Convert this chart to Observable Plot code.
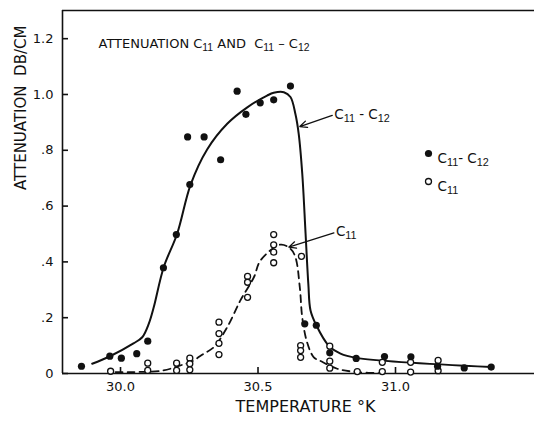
<!DOCTYPE html>
<html>
<head>
<meta charset="utf-8">
<script src="https://cdn.jsdelivr.net/npm/d3@7"></script>
<script src="https://cdn.jsdelivr.net/npm/@observablehq/plot@0.6"></script>
<style>
  html, body { margin: 0; padding: 0; background: #fff; }
  #chart svg { display: block; }
</style>
</head>
<body>
<div id="chart"></div>
<script>
// Measured attenuation, C11 - C12 mode (filled circles)
const diffTemp = [29.858, 29.961, 30.003, 30.059, 30.099, 30.156, 30.203, 30.252, 30.244, 30.304,
                  30.364, 30.424, 30.456, 30.508, 30.557, 30.618, 30.670, 30.712, 30.761, 30.857,
                  30.960, 31.056, 31.153, 31.250, 31.348];
const diffAtt  = [0.026, 0.062, 0.055, 0.071, 0.116, 0.379, 0.498, 0.677, 0.848, 0.848,
                  0.766, 1.012, 0.929, 0.970, 0.981, 1.030, 0.178, 0.173, 0.074, 0.054,
                  0.061, 0.060, 0.026, 0.020, 0.023];

// Measured attenuation, C11 mode (open circles)
const c11Temp = [29.964, 30.099, 30.099, 30.204, 30.204, 30.252, 30.252, 30.252,
                 30.358, 30.358, 30.358, 30.358, 30.462, 30.462, 30.462,
                 30.557, 30.557, 30.557, 30.557, 30.658, 30.655, 30.655, 30.655,
                 30.761, 30.761, 30.761, 30.861, 30.952, 30.952, 31.055, 31.055, 31.155, 31.155];
const c11Att  = [0.008, 0.037, 0.011, 0.037, 0.011, 0.055, 0.035, 0.013,
                 0.184, 0.143, 0.108, 0.068, 0.348, 0.327, 0.273,
                 0.498, 0.461, 0.435, 0.397, 0.420, 0.100, 0.082, 0.058,
                 0.098, 0.044, 0.019, 0.007, 0.040, 0.007, 0.040, 0.005, 0.047, 0.010];

// Hand-fitted curve through the C11 - C12 points (solid)
const diffCurveTemp = [29.897, 29.960, 30.047, 30.079, 30.103, 30.121, 30.157, 30.206, 30.255, 30.315,
                       30.388, 30.461, 30.533, 30.557, 30.594, 30.618, 30.636, 30.648, 30.661, 30.673,
                       30.683, 30.691, 30.712, 30.757, 30.800, 30.857, 31.348];
const diffCurveAtt  = [0.035, 0.061, 0.108, 0.130, 0.179, 0.238, 0.381, 0.501, 0.677, 0.803,
                       0.895, 0.954, 0.996, 1.006, 1.008, 0.991, 0.930, 0.859, 0.715, 0.501,
                       0.321, 0.226, 0.173, 0.100, 0.071, 0.056, 0.023];

// Hand-fitted curve through the C11 points (dashed)
const c11CurveTemp = [29.982, 30.043, 30.156, 30.218, 30.255, 30.303, 30.339, 30.388, 30.436, 30.485,
                      30.509, 30.582, 30.618, 30.636, 30.652, 30.661, 30.679, 30.703, 30.727, 30.788,
                      30.861, 30.957];
const c11CurveAtt  = [0.005, 0.005, 0.011, 0.029, 0.041, 0.071, 0.094, 0.166, 0.262, 0.345,
                      0.405, 0.462, 0.447, 0.417, 0.309, 0.200, 0.110, 0.058, 0.045, 0.017,
                      0.005, 0.001];

// Axis ticks
const xTicks = [30.0, 30.5, 31.0];
const xTickLabels = ["30.0", "30.5", "31.0"];
const yTicks = [0, 0.2, 0.4, 0.6, 0.8, 1.0, 1.2];
const yTickLabels = ["0", ".2", ".4", ".6", ".8", "1.0", "1.2"];

// Curve callouts: label anchor and arrow tip
const calloutLabels = ["C₁₁ - C₁₂", "C₁₁"];
const calloutFromTemp = [30.770, 30.776];
const calloutFromAtt  = [0.925, 0.504];
const calloutToTemp   = [30.652, 30.612];
const calloutToAtt    = [0.885, 0.453];

const legendLabels = ["C₁₁- C₁₂", "C₁₁"];
const titleText = "ATTENUATION C₁₁ AND  C₁₁ – C₁₂";
const xLabel = "TEMPERATURE °K";
const yLabel = "ATTENUATION  DB/CM";

const xDomain = [29.789, 31.5055];
const yDomain = [0, 1.301];

const W = 534, H = 421, mLeft = 62, mTop = 10, mRight = 0, mBottom = 48;
// inward tick length (6px) expressed in data units of each scale
const tickPx = 6;
const xTickLen = tickPx * (xDomain[1] - xDomain[0]) / (W - mLeft - mRight);
const yTickLen = tickPx * (yDomain[1] - yDomain[0]) / (H - mTop - mBottom);

const diffPts = diffTemp.map((t, i) => ({t, a: diffAtt[i]}));
const c11Pts = c11Temp.map((t, i) => ({t, a: c11Att[i]}));
const diffCurve = diffCurveTemp.map((t, i) => ({t, a: diffCurveAtt[i]}));
const c11Curve = c11CurveTemp.map((t, i) => ({t, a: c11CurveAtt[i]}));
const callouts = calloutLabels.map((label, i) => ({
  label, x1: calloutFromTemp[i], y1: calloutFromAtt[i], x2: calloutToTemp[i], y2: calloutToAtt[i]
}));

const font = "'DejaVu Sans', sans-serif";
const ink = "#111";

const chart = Plot.plot({
  width: W,
  height: H,
  marginLeft: mLeft,
  marginTop: mTop,
  marginRight: mRight,
  marginBottom: mBottom,
  style: {fontFamily: font, background: "#fff", color: ink},
  x: {domain: xDomain},
  y: {domain: yDomain},
  marks: [
    // frame: left, top and bottom edges
    Plot.ruleX([xDomain[0]], {stroke: ink, strokeWidth: 1.6}),
    Plot.ruleY([yDomain[1]], {stroke: ink, strokeWidth: 1.6}),
    Plot.ruleY([0], {stroke: ink, strokeWidth: 1.6}),
    // short tick marks pointing into the frame
    Plot.ruleX(xTicks, {x: d => d, y1: yDomain[0], y2: yDomain[0] + yTickLen, stroke: ink, strokeWidth: 1.6}),
    Plot.ruleY(yTicks, {y: d => d, x1: xDomain[0], x2: xDomain[0] + xTickLen, stroke: ink, strokeWidth: 1.6}),
    Plot.axisX({
      ticks: xTicks, tickFormat: (d, i) => xTickLabels[i],
      tickSize: 0, tickPadding: 8, fontSize: 13, label: null
    }),
    Plot.axisY({
      ticks: yTicks, tickFormat: (d, i) => yTickLabels[i],
      tickSize: 0, tickPadding: 9, fontSize: 13, label: null
    }),
    // fitted curves
    Plot.line(diffCurve, {x: "t", y: "a", curve: "catmull-rom", stroke: ink, strokeWidth: 2}),
    Plot.line(c11Curve, {x: "t", y: "a", curve: "catmull-rom", stroke: ink, strokeWidth: 1.8,
                         strokeDasharray: "7,5"}),
    // measured points
    Plot.dot(c11Pts, {x: "t", y: "a", r: 3, stroke: ink, strokeWidth: 1.3, fill: "#fff"}),
    Plot.dot(diffPts, {x: "t", y: "a", r: 3.6, fill: ink, stroke: "none"}),
    // callouts
    Plot.arrow(callouts, {x1: "x1", y1: "y1", x2: "x2", y2: "y2", stroke: ink, strokeWidth: 1.3,
                          headLength: 9, headAngle: 50}),
    Plot.text(callouts, {x: "x1", y: "y1", text: "label", textAnchor: "start", dx: 2, dy: -1, fontSize: 13.5, fill: ink}),
    // title
    Plot.text([titleText], {frameAnchor: "top-left", dx: 36, dy: 28, textAnchor: "start", fontSize: 13,
                            letterSpacing: 1.2, fill: ink}),
    // legend
    Plot.dot([0], {frameAnchor: "top-left", dx: 366, dy: 143, r: 3.6, fill: ink}),
    Plot.text([legendLabels[0]], {frameAnchor: "top-left", dx: 375, dy: 143, textAnchor: "start", fontSize: 13.5, fill: ink}),
    Plot.dot([0], {frameAnchor: "top-left", dx: 366, dy: 171, r: 3, stroke: ink, strokeWidth: 1.3, fill: "#fff"}),
    Plot.text([legendLabels[1]], {frameAnchor: "top-left", dx: 375, dy: 171, textAnchor: "start", fontSize: 13.5, fill: ink}),
    // axis titles
    Plot.text([yLabel], {frameAnchor: "left", dx: -41, dy: -2, rotate: -90, fontSize: 15, fill: ink,
                         letterSpacing: 1}),
    Plot.text([xLabel], {frameAnchor: "bottom", dx: 7, dy: 38, fontSize: 16, fill: ink, letterSpacing: 1})
  ]
});

// Set subscript digits as lowered runs in a narrow face
const subDigits = "₀₁₂₃₄₅₆₇₈₉";
d3.select(chart).selectAll("text").each(function () {
  if (this.children.length) return;
  const s = this.textContent;
  if (![...s].some(c => subDigits.includes(c))) return;
  const runs = s.match(/[₀-₉]+|[^₀-₉]+/g);
  this.textContent = "";
  let shifted = false;
  for (const run of runs) {
    const isSub = subDigits.includes(run[0]);
    const span = d3.select(this).append("tspan");
    if (isSub) {
      span.text([...run].map(c => subDigits.indexOf(c)).join(""))
        .attr("font-size", "0.8em")
        .attr("letter-spacing", 0)
        .attr("font-family", "'Liberation Sans Narrow', 'Liberation Sans', sans-serif")
        .attr("dy", shifted ? null : 3);
      shifted = true;
    } else {
      span.text(run).attr("dy", shifted ? -3 : null);
      shifted = false;
    }
  }
});

document.getElementById("chart").appendChild(chart);
</script>
</body>
</html>
